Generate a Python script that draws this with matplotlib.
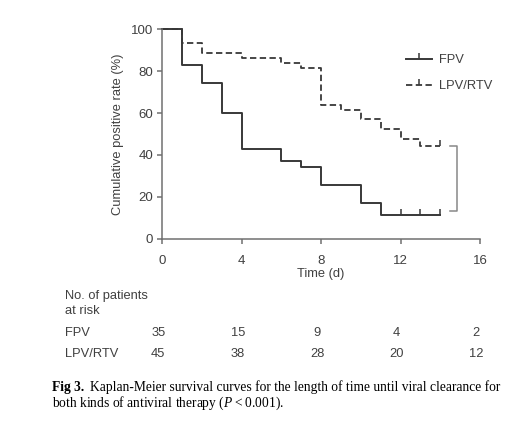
import matplotlib
matplotlib.use("Agg")
import matplotlib.pyplot as plt
import matplotlib.transforms as mtransforms
from matplotlib.lines import Line2D

plt.rcParams['font.family'] = ['Liberation Sans', 'DejaVu Sans']
plt.rcParams['mathtext.fontset'] = 'custom'
plt.rcParams['mathtext.rm'] = 'Liberation Serif'
plt.rcParams['mathtext.it'] = 'Liberation Serif:italic'

# Kaplan-Meier step data
fpv_time = [0, 1, 2, 3, 4, 6, 7, 8, 10, 11, 14]
fpv_rate = [100, 83.0, 74.3, 60.0, 42.9, 37.1, 34.3, 25.7, 17.1, 11.4, 11.4]
fpv_censor_time = [12, 13, 14]
fpv_censor_rate = [11.4, 11.4, 11.4]

lpv_time = [0, 1, 2, 4, 6, 7, 8, 9, 10, 11, 12, 13, 14]
lpv_rate = [100, 93.3, 88.9, 86.4, 84.0, 81.4, 63.8, 61.5, 57.3, 52.3, 47.6, 44.5, 44.5]
lpv_censor_time = [14]
lpv_censor_rate = [44.5]

# bracket joining the end of both curves
bracket_x = [14.5, 14.85]
bracket_y = [44.5, 13.2]

risk_times = [0, 4, 8, 12, 16]
risk_fpv = [35, 15, 9, 4, 2]
risk_lpv = [45, 38, 28, 20, 12]

line_col = '#383838'
axis_col = '#707070'
text_col = '#404040'
dash = (0, (3.5, 1.9))

fig = plt.figure(figsize=(5.30, 4.28), dpi=100)
ax = fig.add_axes([0.3062, 0.4423, 0.5995, 0.4892])

ax.step(lpv_time, lpv_rate, where='post', color=line_col, lw=1.3,
        linestyle=dash, clip_on=False)
ax.step(fpv_time, fpv_rate, where='post', color=line_col, lw=1.4,
        clip_on=False)
ax.plot(fpv_censor_time, fpv_censor_rate, linestyle='none', marker=2,
        markersize=4, mew=1.1, color=line_col, clip_on=False)
ax.plot(lpv_censor_time, lpv_censor_rate, linestyle='none', marker=2,
        markersize=4, mew=1.1, color=line_col, clip_on=False)

ax.plot([bracket_x[0], bracket_x[1], bracket_x[1], bracket_x[0]],
        [bracket_y[0], bracket_y[0], bracket_y[1], bracket_y[1]],
        color='#888888', lw=1.1, clip_on=False)

ax.set_xlim(0, 16)
ax.set_ylim(0, 100)
ax.set_xticks(risk_times)
ax.set_yticks([0, 20, 40, 60, 80, 100])
for s in ['top', 'right']:
    ax.spines[s].set_visible(False)
for s in ['left', 'bottom']:
    ax.spines[s].set_color(axis_col)
    ax.spines[s].set_linewidth(1.1)
ax.tick_params(colors=axis_col, labelcolor=text_col, labelsize=9.5,
               length=3.5, width=1.1, pad=3)
ax.tick_params(axis='x', pad=8)
ax.set_xlabel('Time (d)', fontsize=9.3, color=text_col, labelpad=1)
ax.set_ylabel('Cumulative positive rate (%)', fontsize=9.3, color=text_col,
              labelpad=5)

handles = [
    Line2D([], [], color=line_col, lw=1.4, marker=2, markersize=4, mew=1.1),
    Line2D([], [], color=line_col, lw=1.3, linestyle=dash, marker=2,
           markersize=4, mew=1.1),
]
leg = ax.legend(handles, ['FPV', 'LPV/RTV'], loc='upper left',
                bbox_to_anchor=(0.75, 0.905), frameon=False, fontsize=9.3,
                handlelength=2.0, handletextpad=0.6, labelspacing=1.05,
                borderaxespad=0, numpoints=1)
for t in leg.get_texts():
    t.set_color(text_col)

# number at risk table
shift = mtransforms.offset_copy(ax.transData, fig=fig, x=-4, y=0,
                                units='dots')
tab = mtransforms.blended_transform_factory(shift, fig.transFigure)
fig.text(65 / 530, 1 - 296 / 428, 'No. of patients', fontsize=9.3,
         color=text_col, va='center')
fig.text(65 / 530, 1 - 311 / 428, 'at risk', fontsize=9.3, color=text_col,
         va='center')
fig.text(65 / 530, 1 - 333 / 428, 'FPV', fontsize=9.3, color=text_col,
         va='center')
fig.text(65 / 530, 1 - 354 / 428, 'LPV/RTV', fontsize=9.3, color=text_col,
         va='center')
for t, n1, n2 in zip(risk_times, risk_fpv, risk_lpv):
    fig.text(t, 1 - 333 / 428, str(n1), fontsize=9.3, color=text_col,
             ha='center', va='center', transform=tab)
    fig.text(t, 1 - 354 / 428, str(n2), fontsize=9.3, color=text_col,
             ha='center', va='center', transform=tab)

# caption
cap_size = 9.75
bold = fig.text(52 / 530, 1 - 387 / 428, 'Fig 3.', fontsize=cap_size,
                fontweight='bold', va='center', family='Liberation Serif')
fig.canvas.draw()
bb = bold.get_window_extent()
fig.text((bb.x1 + 6) / 530, 1 - 387 / 428,
         'Kaplan-Meier survival curves for the length of time until viral clearance for',
         fontsize=cap_size, va='center', family='Liberation Serif')
fig.text(52 / 530, 1 - 403 / 428,
         'both kinds of antiviral therapy ($P$\u2009<\u20090.001).',
         fontsize=cap_size, va='center', family='Liberation Serif')

fig.savefig('out.png', dpi=100)
